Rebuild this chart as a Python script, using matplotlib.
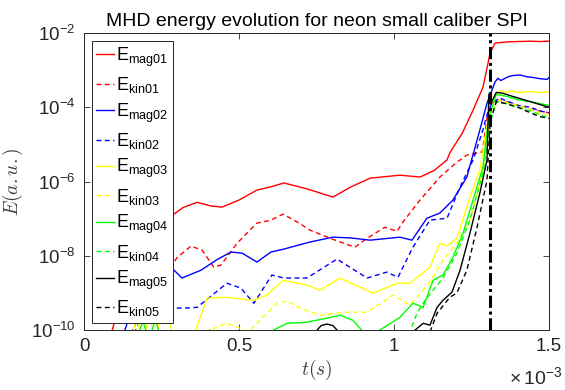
import numpy as np
import matplotlib
matplotlib.use("Agg")
import matplotlib.pyplot as plt
from matplotlib.ticker import FuncFormatter, NullLocator

plt.rcParams['font.family'] = ['Liberation Sans', 'DejaVu Sans']
plt.rcParams['mathtext.fontset'] = 'cm'
plt.rcParams['axes.unicode_minus'] = False

#---------------Data (t in ms, log10 of energy)---------------

t_mag01 = [0.08, 0.12, 0.17, 0.22, 0.27, 0.32, 0.365, 0.41, 0.445, 0.5, 0.558, 0.6, 0.645, 0.72,
           0.803, 0.86, 0.923, 1.019, 1.084, 1.13, 1.171, 1.18, 1.22, 1.255, 1.287, 1.31, 1.326,
           1.34, 1.365, 1.4, 1.44, 1.47, 1.5]
e_mag01 = [-10.3, -9.2, -8.0, -7.4, -7.0, -6.7, -6.56, -6.66, -6.69, -6.5, -6.23, -6.15, -6.04, -6.2,
           -6.42, -6.15, -5.91, -5.83, -5.88, -5.7, -5.42, -5.23, -4.7, -4.08, -3.46, -2.54, -2.27,
           -2.26, -2.24, -2.23, -2.22, -2.23, -2.22]

t_kin01 = [0.15, 0.2, 0.24, 0.268, 0.3, 0.345, 0.381, 0.419, 0.442, 0.494, 0.558, 0.6, 0.642, 0.69,
           0.729, 0.794, 0.874, 0.913, 0.971, 1.01, 1.029, 1.084, 1.148, 1.2, 1.235, 1.271, 1.285,
           1.3, 1.315, 1.33, 1.36, 1.4, 1.44, 1.47, 1.5]
e_kin01 = [-10.3, -9.4, -8.9, -8.47, -8.05, -7.74, -7.85, -8.31, -8.25, -7.66, -7.12, -7.05, -6.88, -7.1,
           -7.31, -7.53, -7.77, -7.53, -7.23, -7.34, -7.09, -6.5, -5.88, -5.5, -5.29, -5.23, -5.2,
           -4.3, -3.9, -3.8, -3.85, -3.95, -4.05, -4.1, -4.15]

t_mag02 = [0.12, 0.16, 0.2, 0.24, 0.268, 0.281, 0.316, 0.377, 0.43, 0.474, 0.51, 0.558, 0.603, 0.645,
           0.729, 0.803, 0.86, 0.923, 1.019, 1.058, 1.106, 1.148, 1.19, 1.235, 1.277, 1.3, 1.326,
           1.335, 1.345, 1.365, 1.38, 1.406, 1.43, 1.45, 1.47, 1.494, 1.5]
e_mag02 = [-10.3, -9.3, -8.9, -8.5, -8.39, -8.31, -8.6, -8.39, -8.1, -7.9, -7.93, -8.17, -7.9, -7.82,
           -7.63, -7.5, -7.52, -7.58, -7.5, -7.58, -6.99, -6.85, -6.5, -5.88, -4.61, -3.89, -3.32,
           -3.22, -3.28, -3.19, -3.15, -3.13, -3.18, -3.2, -3.23, -3.25, -3.2]

t_kin02 = [0.14, 0.18, 0.22, 0.268, 0.323, 0.365, 0.461, 0.506, 0.548, 0.606, 0.645, 0.719, 0.816,
           0.913, 0.977, 1.013, 1.061, 1.116, 1.171, 1.213, 1.255, 1.287, 1.3, 1.315, 1.34, 1.37,
           1.4, 1.44, 1.47, 1.5]
e_kin02 = [-10.3, -9.6, -9.5, -9.41, -9.41, -9.39, -8.74, -8.87, -9.28, -8.52, -8.6, -8.6, -8.09,
           -8.6, -8.44, -8.58, -7.77, -7.04, -6.99, -6.15, -5.42, -4.61, -4.2, -3.9, -3.75, -3.85,
           -3.95, -4.0, -4.1, -4.15]

t_mag03 = [0.15, 0.17, 0.19, 0.21, 0.23, 0.25, 0.271, 0.287, 0.348, 0.397, 0.461, 0.545, 0.59, 0.642,
           0.719, 0.761, 0.826, 0.932, 1.01, 1.052, 1.116, 1.148, 1.171, 1.203, 1.245, 1.277, 1.3,
           1.33, 1.35, 1.36, 1.38, 1.4, 1.44, 1.47, 1.5]
e_mag03 = [-10.3, -9.7, -10.3, -9.6, -10.3, -9.5, -9.39, -10.3, -10.3, -9.14, -9.12, -9.2, -9.06, -8.66,
           -8.79, -8.93, -8.6, -9.01, -8.74, -8.74, -8.31, -7.66, -7.74, -7.53, -6.42, -5.69, -4.5,
           -3.62, -3.55, -3.6, -3.56, -3.6, -3.58, -3.6, -3.59]

t_kin03 = [0.38, 0.406, 0.461, 0.494, 0.53, 0.545, 0.623, 0.655, 0.697, 0.761, 0.848, 0.913, 0.997,
           1.052, 1.116, 1.158, 1.203, 1.245, 1.287, 1.31, 1.34, 1.37, 1.4, 1.44, 1.47, 1.5]
e_kin03 = [-10.3, -10.0, -9.82, -9.92, -10.05, -9.92, -9.28, -9.22, -9.41, -9.6, -9.52, -9.52, -9.06,
           -9.33, -8.71, -8.12, -7.66, -7.04, -5.69, -4.2, -3.8, -3.9, -3.95, -4.05, -4.15, -4.2]

t_mag04 = [0.17, 0.19, 0.21, 0.23, 0.25, 0.27, 0.6, 0.655, 0.719, 0.784, 0.826, 0.868, 0.9, 0.945,
           1.019, 1.061, 1.094, 1.126, 1.158, 1.19, 1.223, 1.255, 1.287, 1.305, 1.33, 1.36, 1.4,
           1.44, 1.47, 1.5]
e_mag04 = [-10.3, -9.75, -10.3, -9.7, -10.3, -10.4, -10.05, -9.82, -9.79, -9.68, -9.6, -9.74, -10.05,
           -10.05, -9.66, -9.28, -9.39, -8.66, -8.52, -8.04, -7.39, -6.5, -5.61, -4.3, -3.65, -3.7,
           -3.8, -3.85, -3.9, -3.95]

t_kin04 = [0.39, 0.41, 0.43, 1.04, 1.074, 1.1, 1.126, 1.158, 1.203, 1.245, 1.287, 1.31, 1.33, 1.36,
           1.4, 1.44, 1.47, 1.5]
e_kin04 = [-10.3, -9.95, -10.3, -10.3, -9.55, -9.2, -8.93, -8.6, -7.93, -7.04, -5.77, -4.4, -3.85,
           -3.9, -4.0, -4.1, -4.2, -4.28]

t_mag05 = [0.74, 0.752, 0.765, 0.784, 0.803, 0.816, 0.83, 1.061, 1.094, 1.116, 1.139, 1.158, 1.187,
           1.213, 1.245, 1.277, 1.3, 1.306, 1.315, 1.33, 1.35, 1.38, 1.42, 1.46, 1.5]
e_mag05 = [-10.3, -10.0, -9.88, -9.84, -9.88, -10.0, -10.3, -10.05, -9.82, -9.87, -9.39, -9.2, -8.98,
           -8.39, -7.39, -6.31, -5.42, -3.65, -3.85, -3.6, -3.62, -3.7, -3.8, -3.9, -4.0]

t_kin05 = [1.116, 1.139, 1.18, 1.203, 1.235, 1.268, 1.3, 1.31, 1.33, 1.36, 1.4, 1.44, 1.47, 1.5]
e_kin05 = [-10.05, -9.55, -9.12, -9.0, -8.39, -7.23, -5.96, -4.4, -3.85, -3.9, -4.0, -4.15, -4.25, -4.3]

t_spi = 1.31  # vertical marker (ms)

series = [
    (t_mag01, e_mag01, 'r', '-', 'mag01'),
    (t_kin01, e_kin01, 'r', '--', 'kin01'),
    (t_mag02, e_mag02, 'b', '-', 'mag02'),
    (t_kin02, e_kin02, 'b', '--', 'kin02'),
    (t_mag03, e_mag03, 'y', '-', 'mag03'),
    (t_kin03, e_kin03, 'y', '--', 'kin03'),
    (t_mag04, e_mag04, 'g', '-', 'mag04'),
    (t_kin04, e_kin04, 'g', '--', 'kin04'),
    (t_mag05, e_mag05, 'k', '-', 'mag05'),
    (t_kin05, e_kin05, 'k', '--', 'kin05'),
]
colors = {'r': '#ff0000', 'b': '#0000ff', 'y': '#ffff00', 'g': '#00ff00', 'k': '#000000'}

#---------------Plot---------------

fig = plt.figure(figsize=(5.65, 3.9), dpi=100)
ax = fig.add_axes([84/565, 60/390, 465/565, 297/390])

for t, e, c, ls, name in series:
    line, = ax.plot(np.array(t)*1e-3, 10.0**np.array(e), color=colors[c], lw=1.0,
                    label=r'$\mathregular{E_{%s}}$' % name)
    if ls == '--':
        line.set_dashes((3.5, 2.5))

ax.axvline(t_spi*1e-3, color='k', lw=2.2, dashes=(4, 1.2, 1, 1.2))

ax.set_yscale('log')
ax.set_xlim(0, 1.5e-3)
ax.set_ylim(1e-10, 1e-2)
ax.set_xticks([0, 0.5e-3, 1e-3, 1.5e-3])
ax.xaxis.set_major_formatter(FuncFormatter(lambda v, p: '%g' % round(v*1e3, 3)))
ax.set_yticks([1e-10, 1e-8, 1e-6, 1e-4, 1e-2])
ax.yaxis.set_minor_locator(NullLocator())

ax.tick_params(direction='in', top=True, right=True, length=4, width=0.6,
               labelsize=13.5, colors='#262626', pad=6)
for s in ax.spines.values():
    s.set_color('#262626')
    s.set_linewidth(0.7)

ax.set_title('MHD energy evolution for neon small caliber SPI', fontsize=14, pad=5)
ax.set_xlabel(r'$t(s)$', fontsize=14, color='#404040', labelpad=2)
ax.set_ylabel(r'$E(a.u.)$', fontsize=14, color='#404040', labelpad=4)
fig.text(562/565, 1 - 377/390, r'$\mathregular{\times\,10^{-3}}$', ha='right', va='center',
         fontsize=14, color='#262626')

leg = ax.legend(loc='upper left', bbox_to_anchor=(0.017, 0.973), borderaxespad=0,
                fontsize=13, handlelength=1.0, handletextpad=0.1, labelspacing=0.35,
                borderpad=0.25, fancybox=False, framealpha=1, edgecolor='#262626')
leg.get_frame().set_linewidth(0.7)

fig.savefig('out.png', dpi=100)
